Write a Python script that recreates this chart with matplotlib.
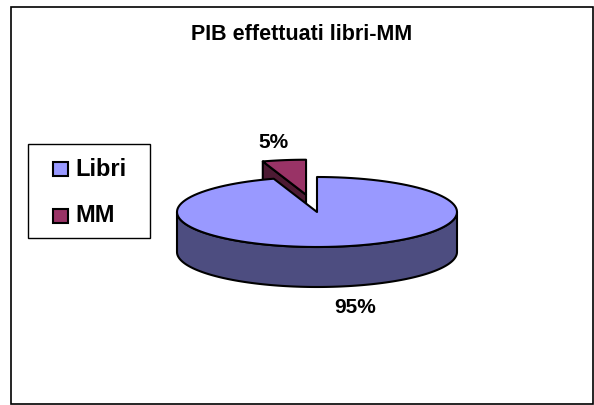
import numpy as np
import matplotlib.pyplot as plt
from matplotlib.patches import Polygon, Rectangle

plt.rcParams['font.family'] = ['Liberation Sans', 'DejaVu Sans']

categories = ["Libri", "MM"]
values = [95, 5]
labels = ["95%", "5%"]
top_colors = ["#9999FF", "#993366"]
side_colors = ["#4D4D80", "#4D1A33"]
explode = [0.0, 0.5]

# pie geometry (pixel units, y down)
cx, cy = 317, 212
rx, ry = 140, 35
depth = 40


def pt(a, ox=0.0, oy=0.0, r=1.0, dz=0.0):
    t = np.radians(a)
    return cx + ox + r * rx * np.cos(t), cy + oy - r * ry * np.sin(t) + dz


def arc(a0, a1, ox, oy, dz=0.0, n=120):
    ang = np.linspace(a0, a1, n)
    return [pt(a, ox, oy, dz=dz) for a in ang]


fig = plt.figure(figsize=(5.94, 4.05), dpi=100)
ax = fig.add_axes([0, 0, 1, 1])
ax.set_xlim(0, 594)
ax.set_ylim(405, 0)
ax.axis('off')

# wedges: start at 12 o'clock, clockwise
total = sum(values)
start = 90.0
wedges = []
for v in values:
    span = 360.0 * v / total
    wedges.append((start - span, start))
    start -= span

ec = dict(edgecolor="black", linewidth=1.5, joinstyle="round")

# draw exploded small slice first, then the big one over it
for i in [1, 0]:
    a0, a1 = wedges[i]
    mid = (a0 + a1) / 2
    ox = explode[i] * rx * np.cos(np.radians(mid))
    oy = -explode[i] * ry * np.sin(np.radians(mid))
    c = (cx + ox, cy + oy)

    # cut face on the left edge, facing the viewer
    if i == 1:
        p = pt(a1, ox, oy)
        face = [c, p, (p[0], p[1] + depth), (c[0], c[1] + depth)]
        ax.add_patch(Polygon(face, closed=True, facecolor=side_colors[i], **ec))

    # front rim
    b0 = a0 + 360 if a0 < 0 else a0
    r0, r1 = max(b0, 180), min(a1 + 360 if a1 < b0 else a1, 360)
    if r1 > r0:
        top = arc(r0, r1, ox, oy)
        bot = arc(r1, r0, ox, oy, dz=depth)
        ax.add_patch(Polygon(top + bot, closed=True, facecolor=side_colors[i], **ec))

    # top face
    e = a1 if a1 > a0 else a1 + 360
    poly = [c] + arc(a0, e, ox, oy)
    ax.add_patch(Polygon(poly, closed=True, facecolor=top_colors[i], **ec))

# percentage labels
for i, lab in enumerate(labels):
    a0, a1 = wedges[i]
    mid = (a0 + a1) / 2
    s = np.sin(np.radians(mid))
    ox = explode[i] * rx * np.cos(np.radians(mid))
    oy = -explode[i] * ry * s
    x, y = pt(mid, ox, oy, r=1.5, dz=depth + 4 if s < 0 else 0)
    ax.text(x + (5 if s < 0 else 0), y, lab, ha="center", va="center",
            fontsize=15, fontweight="bold")

ax.text(302, 35, "PIB effettuati libri-MM", ha="center", va="center",
        fontsize=15.5, fontweight="bold")

# legend box
ax.add_patch(Rectangle((28, 144), 122, 94, facecolor="white", edgecolor="black", linewidth=1))
for i, name in enumerate(categories):
    yy = 169 + i * 47
    ax.add_patch(Rectangle((53, yy - 7), 15, 14, facecolor=top_colors[i],
                           edgecolor="black", linewidth=1.5))
    ax.text(75, yy, name, ha="left", va="center", fontsize=17, fontweight="bold")

# chart border
ax.add_patch(Rectangle((11, 7), 582, 397, facecolor="none", edgecolor="black", linewidth=1.2))

fig.savefig("out.png", dpi=100)
